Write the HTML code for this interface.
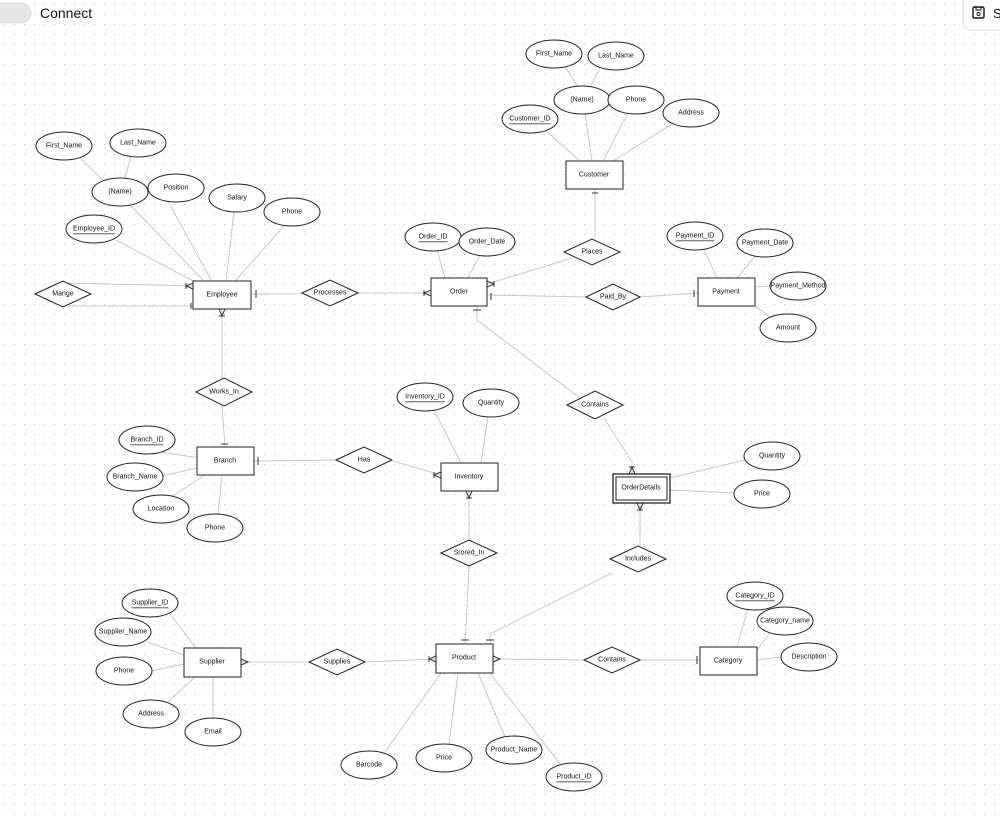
<!DOCTYPE html>
<html><head><meta charset="utf-8"><style>
body{margin:0;width:1000px;height:821px;overflow:hidden;background:#fff;font-family:"Liberation Sans",sans-serif;}
svg{position:absolute;left:0;top:0}
.t{font-family:"Liberation Sans",sans-serif;font-size:7px;fill:#111;text-anchor:middle;dominant-baseline:central}
</style></head><body>
<svg width="1000" height="821" viewBox="0 0 1000 821">
<defs><pattern id="d" width="10" height="10" patternUnits="userSpaceOnUse"><rect x="4" y="4" width="1" height="1" fill="#bdbdbd"/></pattern></defs>
<rect width="1000" height="821" fill="url(#d)"/>
<rect x="-10" y="3" width="41" height="20" rx="10" fill="#e6e6e6" stroke="#ddd"/>
<text x="40" y="18" font-family="Liberation Sans" font-size="14" fill="#111">Connect</text>
<rect x="963" y="-5" width="50" height="35" rx="7" fill="#fff" stroke="#ddd"/>
<rect x="973" y="7" width="11" height="11" rx="1.5" fill="none" stroke="#111" stroke-width="1.4"/>
<rect x="976" y="7" width="5" height="3" fill="none" stroke="#111" stroke-width="1"/>
<circle cx="978.5" cy="14" r="1.6" fill="none" stroke="#111"/>
<text x="993" y="18" font-family="Liberation Sans" font-size="13" fill="#111">S</text>
<g stroke="#c8c8c8" stroke-width="1" fill="none">
<path d="M80 158 L104 181 M131 156 L125 178 M130 205 L205 282 M168 201 L212 282 M234 211 L226 282 M285 225 L234 282 M116 240 L195 282"/>
<path d="M68 283 L193 286 M68 306 L193 306 M252 294 L302 294 M358 293 L431 293 M222 309 L222 378 M222 406 L225 447"/>
<path d="M565 66 L578 87 M600 68 L590 87 M585 113 L592 161 M628 113 L603 161 M672 124 L613 161 M545 130 L580 161 M595 189 L595 238 M572 258 L487 284"/>
<path d="M437 250 L445 278 M480 255 L468 278 M487 295 L586 297 M640 297 L698 293 M477 306 L477 320 L580 398 M604 418 L632 462 L632 474"/>
<path d="M704 249 L717 278 M755 256 L737 278 M755 287 L770 286 M755 306 L770 317"/>
<path d="M254 461 L335 460 M393 461 L441 475 M160 452 L200 458 M162 476 L197 468 M168 499 L205 475 M218 515 L222 475"/>
<path d="M434 410 L461 463 M488 416 L481 463 M469 491 L469 540 M469 566 L465 644"/>
<path d="M670 478 L745 460 M670 490 L735 493 M640 503 L640 546 M612 573 L490 634 L490 644"/>
<path d="M241 662 L308 662 M366 662 L436 659 M493 659 L584 660 M641 660 L700 660 M385 752 L441 673 M449 745 L458 673 M505 737 L478 673 M560 764 L490 673"/>
<path d="M170 614 L196 648 M147 642 L184 655 M151 671 L184 664 M168 702 L195 677 M213 719 L213 677"/>
<path d="M748 608 L737 647 M770 633 L757 650 M781 657 L757 660"/>
</g>
<g stroke="#333" stroke-width="1" fill="none">
<path d="M193 283 L186 286 L193 289 M186 283 L186 289"/>
<path d="M191 303 L191 309"/>
<path d="M256 290 L256 298"/>
<path d="M431 290 L424 293 L431 296 M424 290 L424 296"/>
<path d="M487 281 L494 284 L487 287 M494 281 L494 287"/>
<path d="M491 293 L491 300"/>
<path d="M219 309 L222 316 L225 309 M219 316 L225 316"/>
<path d="M221 444 L228 444"/>
<path d="M592 193 L598 193"/>
<path d="M473 310 L481 310"/>
<path d="M694 290 L694 297"/>
<path d="M258 457 L258 465"/>
<path d="M441 472 L434 475 L441 478 M434 472 L434 478"/>
<path d="M466 491 L469 498 L472 491 M466 498 L472 498"/>
<path d="M629 474 L632 467 L635 474 M629 467 L635 467"/>
<path d="M637 503 L640 510 L643 503 M637 510 L643 510"/>
<path d="M461 640 L469 640 M486 640 L494 640"/>
<path d="M436 656 L429 659 L436 662 M429 656 L429 662"/>
<path d="M493 656 L500 659 L493 662"/>
<path d="M241 659 L248 662 L241 665"/>
<path d="M697 656 L697 664"/>
</g>
<g fill="#fff" stroke="#222" stroke-width="1">
<rect x="193" y="281" width="58" height="28"/>
<rect x="431" y="278" width="56" height="28"/>
<rect x="566" y="161" width="57" height="28"/>
<rect x="698" y="278" width="57" height="28"/>
<rect x="197" y="447" width="57" height="28"/>
<rect x="441" y="463" width="57" height="28"/>
<rect x="613" y="474" width="57" height="29" stroke-width="1.3"/>
<rect x="616" y="477" width="51" height="23"/>
<rect x="436" y="644" width="57" height="29"/>
<rect x="184" y="648" width="57" height="29"/>
<rect x="700" y="647" width="57" height="28"/>
</g>
<g class="t">
<text x="222" y="295">Employee</text><text x="459" y="292">Order</text><text x="594" y="175">Customer</text>
<text x="726" y="292">Payment</text><text x="225" y="461">Branch</text><text x="469" y="477">Inventory</text>
<text x="641" y="488">OrderDetails</text><text x="464" y="658">Product</text><text x="212" y="662">Supplier</text>
<text x="728" y="661">Category</text>
</g>
<g fill="#fff" stroke="#222" stroke-width="1">
<path d="M35 294 L63 281 L91 294 L63 307Z"/>
<path d="M302 293 L330 280 L358 293 L330 306Z"/>
<path d="M564 252 L592 239 L620 252 L592 265Z"/>
<path d="M586 297 L613 284 L640 297 L613 310Z"/>
<path d="M196 392 L224 378 L252 392 L224 406Z"/>
<path d="M336 460 L364 447 L392 460 L364 473Z"/>
<path d="M567 405 L595 391 L623 405 L595 419Z"/>
<path d="M441 553 L469 540 L497 553 L469 566Z"/>
<path d="M610 559 L638 546 L666 559 L638 572Z"/>
<path d="M309 662 L337 649 L365 662 L337 675Z"/>
<path d="M584 660 L612 647 L640 660 L612 673Z"/>
</g>
<g class="t">
<text x="63" y="294">Mange</text><text x="330" y="293">Processes</text><text x="592" y="252">Places</text>
<text x="613" y="297">Paid_By</text><text x="224" y="392">Works_In</text><text x="364" y="460">Has</text>
<text x="595" y="405">Contains</text><text x="469" y="553">Srored_In</text><text x="638" y="559">Includes</text>
<text x="337" y="662">Supplies</text><text x="612" y="660">Contains</text>
</g>
<g fill="#fff" stroke="#222" stroke-width="1">
<ellipse cx="64" cy="146" rx="28" ry="14"/><ellipse cx="138" cy="143" rx="28" ry="14"/>
<ellipse cx="120" cy="192" rx="28" ry="14"/><ellipse cx="176" cy="188" rx="28" ry="14"/>
<ellipse cx="237" cy="198" rx="28" ry="14"/><ellipse cx="292" cy="212" rx="28" ry="14"/>
<ellipse cx="94" cy="229" rx="28" ry="14"/>
<ellipse cx="554" cy="54" rx="28" ry="14"/><ellipse cx="616" cy="56" rx="28" ry="14"/>
<ellipse cx="582" cy="100" rx="28" ry="14"/><ellipse cx="636" cy="100" rx="28" ry="14"/>
<ellipse cx="691" cy="113" rx="28" ry="14"/><ellipse cx="530" cy="119" rx="28" ry="14"/>
<ellipse cx="433" cy="237" rx="28" ry="14"/><ellipse cx="487" cy="242" rx="28" ry="14"/>
<ellipse cx="695" cy="236" rx="28" ry="14"/><ellipse cx="765" cy="243" rx="28" ry="14"/>
<ellipse cx="798" cy="286" rx="28" ry="14"/><ellipse cx="788" cy="328" rx="28" ry="14"/>
<ellipse cx="425" cy="397" rx="28" ry="14"/><ellipse cx="491" cy="403" rx="28" ry="14"/>
<ellipse cx="147" cy="440" rx="28" ry="14"/><ellipse cx="135" cy="477" rx="28" ry="14"/>
<ellipse cx="161" cy="509" rx="28" ry="14"/><ellipse cx="215" cy="528" rx="28" ry="14"/>
<ellipse cx="772" cy="456" rx="28" ry="14"/><ellipse cx="762" cy="494" rx="28" ry="14"/>
<ellipse cx="150" cy="603" rx="28" ry="14"/><ellipse cx="123" cy="632" rx="28" ry="14"/>
<ellipse cx="124" cy="671" rx="28" ry="14"/><ellipse cx="151" cy="714" rx="28" ry="14"/>
<ellipse cx="213" cy="732" rx="28" ry="14"/>
<ellipse cx="755" cy="596" rx="28" ry="14"/><ellipse cx="785" cy="621" rx="28" ry="14"/>
<ellipse cx="809" cy="657" rx="28" ry="14"/>
<ellipse cx="369" cy="765" rx="28" ry="14"/><ellipse cx="444" cy="758" rx="28" ry="14"/>
<ellipse cx="514" cy="750" rx="28" ry="14"/><ellipse cx="574" cy="777" rx="28" ry="14"/>
</g>
<g class="t">
<text x="64" y="146">First_Name</text><text x="138" y="143">Last_Name</text><text x="120" y="192">(Name)</text>
<text x="176" y="188">Position</text><text x="237" y="198">Salary</text><text x="292" y="212">Phone</text>
<text x="94" y="229" text-decoration="underline">Employee_ID</text>
<text x="554" y="54">First_Name</text><text x="616" y="56">Last_Name</text><text x="582" y="100">(Name)</text>
<text x="636" y="100">Phone</text><text x="691" y="113">Address</text>
<text x="530" y="119" text-decoration="underline">Customer_ID</text>
<text x="433" y="237" text-decoration="underline">Order_ID</text><text x="487" y="242">Order_Date</text>
<text x="695" y="236" text-decoration="underline">Payment_ID</text><text x="765" y="243">Payment_Date</text>
<text x="798" y="286">Payment_Method</text><text x="788" y="328">Amount</text>
<text x="425" y="397" text-decoration="underline">Inventory_ID</text><text x="491" y="403">Quantity</text>
<text x="147" y="440" text-decoration="underline">Branch_ID</text><text x="135" y="477">Branch_Name</text>
<text x="161" y="509">Location</text><text x="215" y="528">Phone</text>
<text x="772" y="456">Quantity</text><text x="762" y="494">Price</text>
<text x="150" y="603" text-decoration="underline">Supplier_ID</text><text x="123" y="632">Supplier_Name</text>
<text x="124" y="671">Phone</text><text x="151" y="714">Address</text><text x="213" y="732">Email</text>
<text x="755" y="596" text-decoration="underline">Category_ID</text><text x="785" y="621">Category_name</text>
<text x="809" y="657">Description</text>
<text x="369" y="765">Barcode</text><text x="444" y="758">Price</text><text x="514" y="750">Product_Name</text>
<text x="574" y="777" text-decoration="underline">Product_ID</text>
</g>
</svg>
</body></html>
